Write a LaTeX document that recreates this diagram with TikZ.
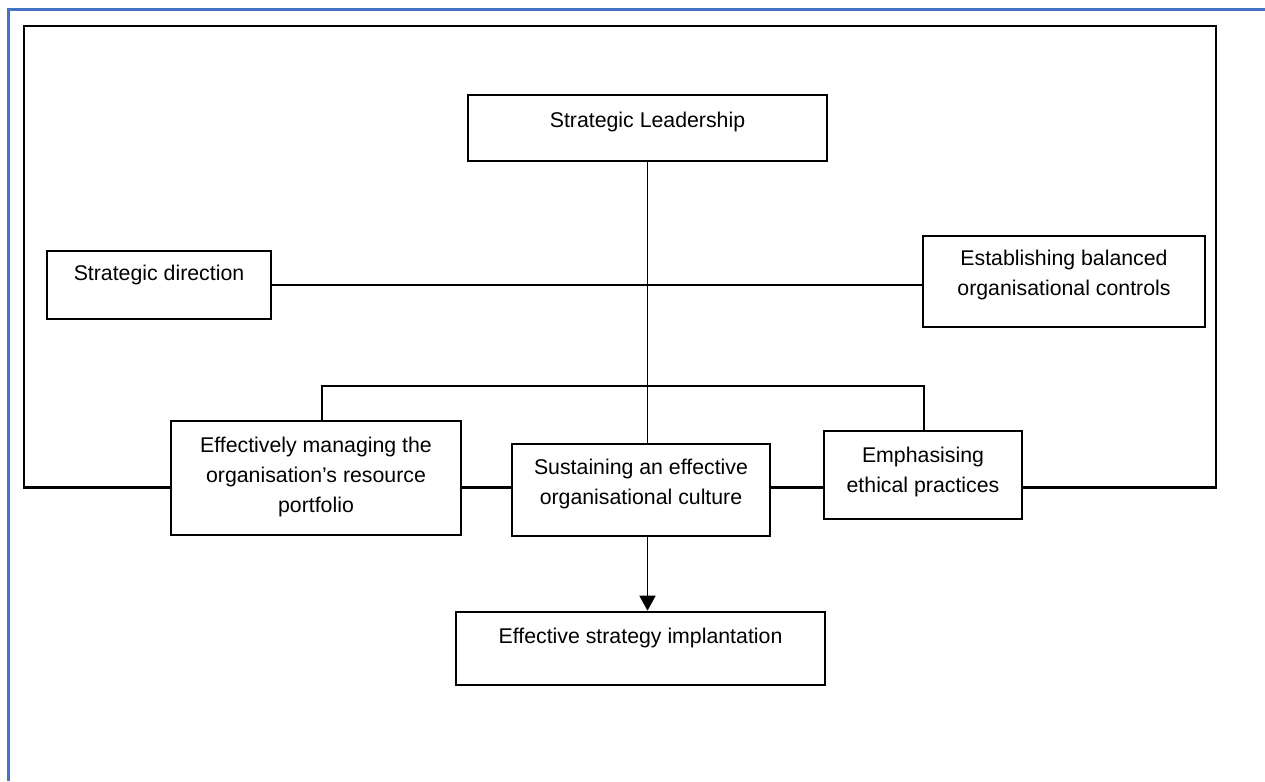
\documentclass[tikz,border=0pt]{standalone}
\usepackage{fontspec}
\setmainfont{Liberation Sans}
\usetikzlibrary{arrows.meta}
\definecolor{wordblue}{RGB}{68,114,196}
\tikzset{box/.style={draw,line width=2.6pt,fill=white,inner sep=0pt},
  txt/.style={align=center,inner sep=0pt,font=\fontsize{21.3}{30}\selectfont},
  link/.style={line width=1.5pt},
  rim/.style={line width=2.4pt}}

\begin{document}
\begin{tikzpicture}[x=1pt,y=-1pt]
  \useasboundingbox (0,0) rectangle (1265,781);
  \draw[wordblue,line width=3.2pt] (8.5,781) -- (8.5,9.5) -- (1265,9.5);
  \node[box,minimum width=359pt,minimum height=66pt] (lead) at (647.5,128) {};
  \node[box,minimum width=224pt,minimum height=68pt] (direction) at (159,285) {};
  \node[box,minimum width=282pt,minimum height=91pt] (controls) at (1064,281.5) {};
  \node[box,minimum width=290pt,minimum height=114pt] (resource) at (316,478) {};
  \node[box,minimum width=258pt,minimum height=92pt] (culture) at (641,490) {};
  \node[box,minimum width=198pt,minimum height=88pt] (ethics) at (923,475) {};
  \node[box,minimum width=369pt,minimum height=73pt] (implant) at (640.5,648.5) {};
  \node[txt] (lead-t) at (647.5,122) {Strategic Leadership};
  \node[txt] (direction-t) at (159,275) {Strategic direction};
  \node[txt] (controls-t) at (1064,275) {Establishing balanced\\organisational controls};
  \node[txt] (resource-t) at (316,477) {Effectively managing the\\organisation’s resource\\portfolio};
  \node[txt] (culture-t) at (641,484) {Sustaining an effective\\organisational culture};
  \node[txt] (ethics-t) at (923,472) {Emphasising\\ethical practices};
  \node[txt] (implant-t) at (640.5,638) {Effective strategy implantation};
  \coordinate (tl) at (24,26);
  \coordinate (tr) at (1216,26);
  \coordinate (bl) at (24,487.5);
  \coordinate (br) at (1216,487.5);
  \coordinate (bus) at (647.5,386);
  \draw[rim] (resource.west |- bl) -- (bl) -- (tl) -- (tr) -- (br) -- (ethics.east |- br);
  \draw[rim] (resource.east |- bl) -- (culture.west |- bl);
  \draw[rim] (culture.east |- bl) -- (ethics.west |- bl);
  \draw[link] (lead.south) -- (lead.south |- culture.north);
  \draw[link] (direction.east) -- (direction.east -| controls.west);
  \draw[link] ([xshift=6pt]resource.north) |- (bus) -| ([xshift=1pt]ethics.north);
  \draw[link,-{Triangle[width=16pt,length=15pt]}] (lead.south |- culture.south) -- (lead.south |- implant.north);
\end{tikzpicture}
\end{document}
